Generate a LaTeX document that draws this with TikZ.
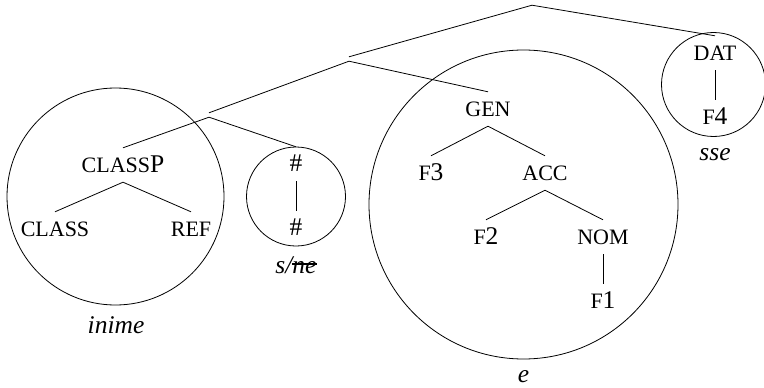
\documentclass[tikz,border=0pt]{standalone}
\usepackage{fontspec}
\setmainfont{Liberation Serif}
\newcommand\sca[1]{{\fontsize{22}{26}\selectfont #1}}
\newcommand\strk[1]{\setbox0\hbox{#1}\rlap{\raise8pt\hbox{\vrule width\wd0 height 1.8pt depth 0pt}}\box0}
\tikzset{
  lab/.style={anchor=base, inner sep=0pt, text height=24pt, text depth=10pt},
  emp/.style={inner sep=0pt, minimum width=0pt, minimum height=4pt},
  gloss/.style={anchor=base, inner sep=0pt, font=\fontsize{25.5}{30}\selectfont\itshape},
  edge/.style={line width=0.8pt},
  ring/.style={line width=0.8pt}
}
\begin{document}
\begin{tikzpicture}[x=1pt,y=-1pt,every node/.style={font=\fontsize{25.5}{30}\selectfont}]
\useasboundingbox (0,0) rectangle (764,388);
% internal nodes
\node[emp] (root) at (532,3) {};
\node[emp] (n2) at (349,59) {};
\node[emp] (n3) at (209,115) {};
% labels
\node[lab] (classp) at (123,172) {\sca{CLASS}P};
\node[lab] (class) at (55,236) {\sca{CLASS}};
\node[lab] (ref) at (191,236) {\sca{REF}};
\node[lab] (h1) at (296,171) {\#};
\node[lab] (h2) at (296,235) {\#};
\node[lab] (gen) at (488,116) {\sca{GEN}};
\node[lab] (f3) at (431,180) {\sca{F}3};
\node[lab] (acc) at (545,180) {\sca{ACC}};
\node[lab] (f2) at (486,244) {\sca{F}2};
\node[lab] (nom) at (603,244) {\sca{NOM}};
\node[lab] (f1) at (603,308) {\sca{F}1};
\node[lab] (dat) at (715,60) {\sca{DAT}};
\node[lab] (f4) at (715,124) {\sca{F}4};
% edges
\draw[edge] (root.south) -- (n2.north);
\draw[edge] (root.south) -- (dat.north);
\draw[edge] (n2.south) -- (n3.north);
\draw[edge] (n2.south) -- (gen.north);
\draw[edge] (n3.south) -- (classp.north);
\draw[edge] (n3.south) -- (h1.north);
\draw[edge] (classp.south) -- (class.north);
\draw[edge] (classp.south) -- (ref.north);
\draw[edge] (h1.south) -- (h2.north);
\draw[edge] (gen.south) -- (f3.north);
\draw[edge] (gen.south) -- (acc.north);
\draw[edge] (acc.south) -- (f2.north);
\draw[edge] (acc.south) -- (nom.north);
\draw[edge] (nom.south) -- (f1.north);
\draw[edge] (dat.south) -- (f4.north);
% circles
\draw[ring] (115.5,196.5) circle (108.5pt);
\draw[ring] (296,196.5) circle (49.5pt);
\draw[ring] (523.5,204.5) circle (154.5pt);
\draw[ring] (713.5,84.5) circle (52pt);
% glosses
\node[gloss] (g1) at (116,333) {inime};
\node[gloss] (g2) at (296,273) {s/\strk{ne}};
\node[gloss] (g3) at (523.5,382) {e};
\node[gloss] (g4) at (715,160) {sse};
\end{tikzpicture}
\end{document}
